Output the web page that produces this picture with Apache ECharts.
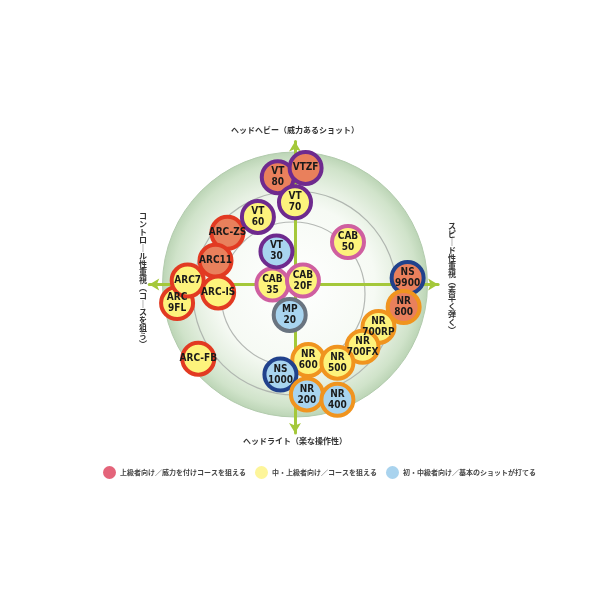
<!DOCTYPE html>
<html>
<head>
<meta charset="utf-8">
<script src="https://cdn.jsdelivr.net/npm/echarts@6/dist/echarts.min.js"></script>
<style>
  html, body { margin: 0; padding: 0; background: #fff; }
  #main { width: 600px; height: 600px; }
</style>
</head>
<body>
<div id="main"></div>
<script>
// ラケットのポジショニングマップ
var models = ['VT\n80', 'VTZF', 'VT\n70', 'VT\n60', 'ARC-ZS', 'VT\n30', 'CAB\n50', 'ARC11',
  'ARC\n9FL', 'ARC-IS', 'ARC7', 'CAB\n35', 'CAB\n20F', 'MP\n20', 'NS\n9900', 'NR\n800',
  'NR\n700RP', 'NR\n700FX', 'ARC-FB', 'NR\n600', 'NR\n500', 'NS\n1000', 'NR\n200', 'NR\n400']
var posX = [-13, 8, 0, -28, -51, -14, 40, -60, -89, -58, -81, -17, 6, -4, 85, 82, 63, 51, -73, 10, 32, -11, 9, 32]
var posY = [81, 88, 62, 51, 39, 25, 32, 18, -14, -6, 3, 0, 3, -23, 5, -17, -32, -47, -56, -57, -59, -68, -83, -87]
// 0: 上級者向け 1: 中・上級者向け 2: 初・中級者向け
var levels = [0, 0, 1, 1, 0, 2, 1, 0, 1, 1, 1, 1, 1, 2, 0, 0, 1, 1, 1, 1, 1, 2, 2, 2]
var levelNames = ['上級者向け／威力を付けコースを狙える', '中・上級者向け／コースを狙える', '初・中級者向け／基本のショットが打てる']

var fillColors = ['#e9805c', '#fdf37c', '#a8d4ef']
var legendColors = ['#e4647a', '#fdf59a', '#a9d3ee']
var lineColors = { ARC: '#e23a22', VT: '#6e2a8e', CAB: '#cf5fa0', NS: '#21428c', NR: '#f0941f', MP: '#6a7480' }

function lineOf(name) {
  var m = name.match(/^[A-Z]+/)[0]
  if (m === 'VTZF') m = 'VT'
  return lineColors[m]
}

var chart = echarts.init(document.getElementById('main'))

var series = []
for (var lv = 0; lv < 3; lv++) {
  var data = []
  for (var i = 0; i < models.length; i++) {
    if (levels[i] !== lv) continue
    data.push({
      name: models[i],
      value: [posX[i], posY[i]],
      itemStyle: { borderColor: lineOf(models[i]) }
    })
  }
  series.push({
    name: levelNames[lv],
    type: 'scatter',
    z: 5,
    symbol: 'circle',
    symbolSize: 32,
    itemStyle: { color: fillColors[lv], borderWidth: 4, opacity: 1 },
    label: {
      show: true,
      position: 'inside',
      formatter: '{b}',
      color: '#1a1a1a',
      fontSize: 10,
      fontWeight: 'bold',
      lineHeight: 11,
      fontFamily: 'DejaVu Sans Condensed, Liberation Sans Narrow, sans-serif'
    },
    emphasis: { disabled: true },
    data: data
  })
}

var hidden = { axisLabel: { show: false }, axisTick: { show: false }, splitLine: { show: false } }

function vtext(s) { return s.split('').join('\n') }

var option = {
  animation: false,
  backgroundColor: '#fff',
  polar: [
    { center: [295, 284.5], radius: 132.5 },
    { center: [295, 293], radius: 102 },
    { center: [293, 294], radius: 72 }
  ],
  angleAxis: [
    Object.assign({ polarIndex: 0, type: 'value', min: 0, max: 360, z: 0,
      axisLine: { show: true, lineStyle: { color: '#b2cbad', width: 1 } } }, hidden),
    Object.assign({ polarIndex: 1, type: 'value', min: 0, max: 360, z: 1,
      axisLine: { show: true, lineStyle: { color: '#b0b6b0', width: 1.2 } } }, hidden),
    Object.assign({ polarIndex: 2, type: 'value', min: 0, max: 360, z: 1,
      axisLine: { show: true, lineStyle: { color: '#b4b8b4', width: 1.2 } } }, hidden)
  ],
  radiusAxis: [
    Object.assign({ polarIndex: 0, type: 'value', min: 0, max: 1, interval: 1, z: 0,
      axisLine: { show: false },
      splitArea: { show: true, areaStyle: { color: [{
        type: 'radial', x: 0.5, y: 0.5, r: 0.5,
        colorStops: [
          { offset: 0, color: '#ffffff' },
          { offset: 0.6, color: '#f6faf4' },
          { offset: 0.76, color: '#e6f0e2' },
          { offset: 0.92, color: '#d0e3ca' },
          { offset: 1, color: '#bcd5b6' }
        ]
      }] } } }, hidden),
    Object.assign({ polarIndex: 1, type: 'value', min: 0, max: 1, axisLine: { show: false } }, hidden),
    Object.assign({ polarIndex: 2, type: 'value', min: 0, max: 1, axisLine: { show: false } }, hidden)
  ],
  grid: { left: 149.25, top: 141.4, width: 288.85, height: 291.5 },
  xAxis: {
    type: 'value', min: -110, max: 108, z: 3,
    axisLine: { show: true, onZero: true, symbol: ['arrow', 'arrow'], symbolSize: [9, 10],
      lineStyle: { color: '#a4c83a', width: 3 } },
    axisLabel: { show: false }, axisTick: { show: false }, splitLine: { show: false }
  },
  yAxis: {
    type: 'value', min: -112, max: 108, z: 3,
    axisLine: { show: true, onZero: true, symbol: ['arrow', 'arrow'], symbolSize: [9, 10],
      lineStyle: { color: '#a4c83a', width: 3 } },
    axisLabel: { show: false }, axisTick: { show: false }, splitLine: { show: false }
  },
  legend: {
    left: 98,
    top: 461,
    icon: 'circle',
    itemWidth: 13,
    itemHeight: 13,
    itemGap: 9,
    textStyle: { fontSize: 7, color: '#444', fontWeight: 'bold', fontFamily: 'Noto Sans CJK JP', padding: [0, 0, 0, -1] },
    selectedMode: false,
    data: levelNames.map(function (n, k) {
      return { name: n, itemStyle: { color: legendColors[k], borderWidth: 0 } }
    })
  },
  graphic: [
    { type: 'text', x: 295, y: 130, style: { text: 'ヘッドヘビー（威力あるショット）', align: 'center', verticalAlign: 'middle',
      fontSize: 8, fontWeight: 'bold', fill: '#333', fontFamily: 'Noto Sans CJK JP' } },
    { type: 'text', x: 295, y: 441, style: { text: 'ヘッドライト（楽な操作性）', align: 'center', verticalAlign: 'middle',
      fontSize: 8, fontWeight: 'bold', fill: '#333', fontFamily: 'Noto Sans CJK JP' } },
    { type: 'text', x: 143, y: 280, style: { text: vtext('コントロ｜ル性重視︵コ｜スを狙う︶'), align: 'center', verticalAlign: 'middle',
      fontSize: 8, lineHeight: 8, fontWeight: 'bold', fill: '#333', fontFamily: 'Noto Sans CJK JP' } },
    { type: 'text', x: 452, y: 278, style: { text: vtext('スピ｜ド性重視︵素早く弾く︶'), align: 'center', verticalAlign: 'middle',
      fontSize: 8, lineHeight: 8, fontWeight: 'bold', fill: '#333', fontFamily: 'Noto Sans CJK JP' } }
  ],
  series: series
}

chart.setOption(option)
</script>
</body>
</html>
